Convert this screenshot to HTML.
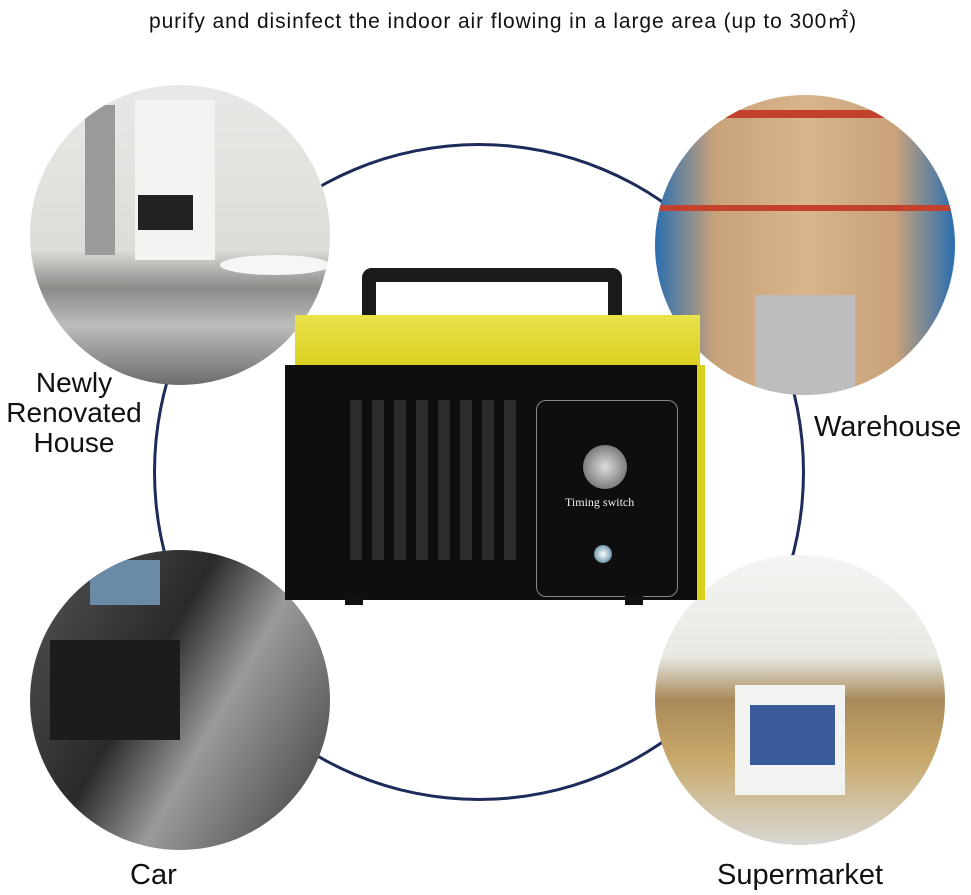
<!DOCTYPE html>
<html><head><meta charset="utf-8"><style>
body{margin:0;width:971px;height:895px;background:#fff;position:relative;overflow:hidden;font-family:"Liberation Sans",sans-serif;color:#111}
.t{position:absolute;white-space:nowrap}
.c{position:absolute;border-radius:50%;overflow:hidden}
</style></head><body>
<div class="t" style="left:0;width:1006px;text-align:center;top:5px;font-size:21px;letter-spacing:0.9px">purify and disinfect the indoor air flowing in a large area (up to 300㎡)</div>
<div style="position:absolute;left:153px;top:143px;width:646px;height:652px;border:3px solid #1d2b5a;border-radius:50%"></div>
<!-- house -->
<div class="c" style="left:30px;top:85px;width:300px;height:300px;background:linear-gradient(#e8e8e6 0,#dcdcd8 55%,#8a8a88 68%,#bdbdbb 80%,#6c6c6a 100%)">
<div style="position:absolute;left:105px;top:15px;width:80px;height:160px;background:#f3f3f1"></div>
<div style="position:absolute;left:108px;top:110px;width:55px;height:35px;background:#222"></div>
<div style="position:absolute;left:55px;top:20px;width:30px;height:150px;background:#9a9a98"></div>
<div style="position:absolute;left:190px;top:170px;width:110px;height:20px;border-radius:50%;background:#f6f6f4"></div>
</div>
<!-- warehouse -->
<div class="c" style="left:655px;top:95px;width:300px;height:300px;background:linear-gradient(90deg,#2a6fb0 0,#c9a27a 20%,#d8b58c 50%,#c9a27a 80%,#2a6fb0 100%)">
<div style="position:absolute;left:100px;top:200px;width:100px;height:100px;background:#bdbdbd"></div>
<div style="position:absolute;left:0;top:15px;width:300px;height:8px;background:#c2422e"></div>
<div style="position:absolute;left:0;top:110px;width:300px;height:6px;background:#c2422e"></div>
</div>
<!-- car -->
<div class="c" style="left:30px;top:550px;width:300px;height:300px;background:linear-gradient(120deg,#555 0,#2a2a2a 40%,#9a9a9a 60%,#3a3a3a 100%)">
<div style="position:absolute;left:60px;top:10px;width:70px;height:45px;background:#6a8aa8"></div>
<div style="position:absolute;left:20px;top:90px;width:130px;height:100px;background:#1c1c1c"></div>
</div>
<!-- supermarket -->
<div class="c" style="left:655px;top:555px;width:290px;height:290px;background:linear-gradient(#f4f4f2 0,#e8e8e4 35%,#a88a5a 50%,#c9a86a 70%,#d8d8d4 100%)">
<div style="position:absolute;left:80px;top:130px;width:110px;height:110px;background:#f2f2f0"></div>
<div style="position:absolute;left:95px;top:150px;width:85px;height:60px;background:#3a5a9a"></div>
</div>
<!-- device -->
<div style="position:absolute;left:362px;top:268px;width:260px;height:70px;border:14px solid #1a1a1a;border-bottom:none;border-radius:10px 10px 0 0;box-sizing:border-box"></div>
<div style="position:absolute;left:295px;top:315px;width:405px;height:55px;background:linear-gradient(#e9e24a,#d9cf1e)"></div>
<div style="position:absolute;left:285px;top:365px;width:420px;height:235px;background:#0e0e0e;border-right:8px solid #d9cf1e;box-sizing:border-box"></div>
<div style="position:absolute;left:340px;top:400px;width:180px;height:160px;background:repeating-linear-gradient(90deg,#0e0e0e 0 10px,#2c2c2c 10px 22px)"></div>
<div style="position:absolute;left:536px;top:400px;width:140px;height:195px;border:1px solid #888;border-radius:10px"></div>
<div style="position:absolute;left:583px;top:445px;width:44px;height:44px;border-radius:50%;background:radial-gradient(#ddd,#555)"></div>
<div class="t" style="left:565px;top:495px;font-size:12px;color:#eee;font-family:'Liberation Serif',serif">Timing switch</div>
<div style="position:absolute;left:594px;top:545px;width:18px;height:18px;border-radius:50%;background:radial-gradient(#fff,#8ab 60%,#234)"></div>
<div style="position:absolute;left:345px;top:595px;width:18px;height:10px;background:#111"></div>
<div style="position:absolute;left:625px;top:595px;width:18px;height:10px;background:#111"></div>
<div class="t" style="left:0;width:148px;text-align:center;top:368px;font-size:28px;line-height:30px">Newly<br>Renovated<br>House</div>
<div class="t" style="left:814px;top:411px;font-size:29px">Warehouse</div>
<div class="t" style="left:130px;top:859px;font-size:29px">Car</div>
<div class="t" style="left:717px;top:859px;font-size:29px">Supermarket</div>
</body></html>
